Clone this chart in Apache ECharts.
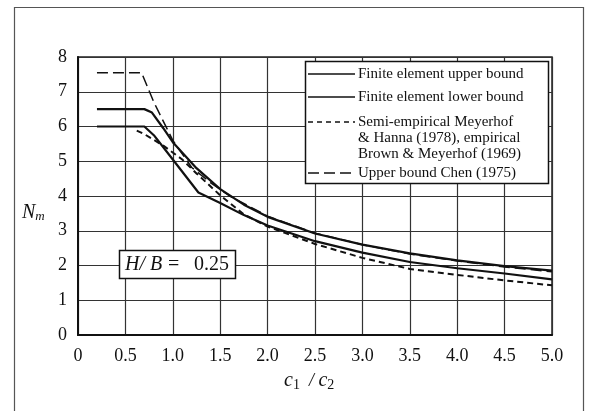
<!DOCTYPE html>
<html>
<head>
<meta charset="utf-8">
<script src="https://cdn.jsdelivr.net/npm/echarts@6/dist/echarts.min.js"></script>
<style>
  html, body { margin: 0; padding: 0; background: #fff; }
  #chart { width: 593px; height: 411px; }
</style>
</head>
<body>
<div id="chart"></div>
<script>
// Bearing capacity factor N_m against strength ratio c1/c2, H/B = 0.25
var xTicks = [0, 0.5, 1.0, 1.5, 2.0, 2.5, 3.0, 3.5, 4.0, 4.5, 5.0];
var yTicks = [0, 1, 2, 3, 4, 5, 6, 7, 8];

var feUpper = [[0.2, 6.5], [0.7, 6.5], [0.78, 6.4], [0.9, 5.95], [1.0, 5.55], [1.25, 4.8], [1.5, 4.2],
  [1.75, 3.75], [2.0, 3.4], [2.5, 2.92], [3.0, 2.6], [3.5, 2.35], [4.0, 2.15], [4.5, 1.98], [5.0, 1.85]];
var feLower = [[0.2, 6.0], [0.7, 6.0], [0.8, 5.75], [1.0, 5.05], [1.27, 4.1], [1.5, 3.8], [1.75, 3.45],
  [2.0, 3.15], [2.5, 2.7], [3.0, 2.37], [3.5, 2.1], [4.0, 1.92], [4.5, 1.77], [5.0, 1.6]];
var semiEmpirical = [[0.62, 5.88], [0.7, 5.78], [0.9, 5.45], [1.1, 5.05], [1.25, 4.65], [1.5, 4.02], [1.75, 3.47],
  [2.0, 3.12], [2.5, 2.62], [3.0, 2.22], [3.5, 1.9], [4.0, 1.73], [4.5, 1.57], [5.0, 1.43]];
var chenUpper = [[0.2, 7.55], [0.67, 7.55], [0.8, 6.7], [1.0, 5.6], [1.2, 4.82], [1.4, 4.38], [1.6, 4.0],
  [2.0, 3.42], [2.5, 2.93], [3.0, 2.6], [3.5, 2.33], [4.0, 2.13], [4.5, 1.96], [5.0, 1.82]];

var legendLines = [
  ['Finite element upper bound'],
  ['Finite element lower bound'],
  ['Semi-empirical Meyerhof', '& Hanna (1978), empirical', 'Brown & Meyerhof (1969)'],
  ['Upper bound Chen (1975)']
];
var ratioName = 'H/ B';
var ratioLabel = '0.25';

var SERIF = '"Liberation Serif", "DejaVu Serif", serif';
var INK = '#111';

var chart = echarts.init(document.getElementById('chart'), null, { renderer: 'canvas' });

function lineSeries(name, data, dash, width) {
  return {
    name: name, type: 'line', data: data, symbol: 'none', smooth: false,
    lineStyle: { color: INK, width: width, type: dash },
    z: 3, silent: true
  };
}

// legend drawn as a boxed block with sample strokes
var legendX = 305, legendY = 61, legendW = 243, legendH = 122;
var legendRows = [74, 97, 122, 173];
var legendDash = [null, null, [5, 4], [11, 5]];
var legendGraphics = [{
  type: 'rect', shape: { x: legendX + 0.5, y: legendY + 0.5, width: legendW, height: legendH },
  style: { fill: '#fff', stroke: INK, lineWidth: 1.5 }, z: 10
}];
legendLines.forEach(function (lines, i) {
  var y = legendRows[i];
  legendGraphics.push({
    type: 'line', shape: { x1: 308, y1: y, x2: 355, y2: y },
    style: { stroke: INK, lineWidth: 1.6, lineDash: legendDash[i] }, z: 11
  });
  lines.forEach(function (t, k) {
    legendGraphics.push({
      type: 'text', x: 358, y: y + k * 15.8,
      style: { text: t, font: '15px ' + SERIF, fill: INK, textVerticalAlign: 'middle' }, z: 11
    });
  });
});

var option = {
  backgroundColor: '#fff',
  animation: false,
  grid: { left: 78, top: 57, right: 41, bottom: 76, show: true, borderColor: '#222', borderWidth: 1.5, backgroundColor: 'transparent' },
  xAxis: {
    type: 'value', min: 0, max: 5, interval: 0.5,
    axisLine: { show: true, lineStyle: { color: INK, width: 2 } },
    axisTick: { show: false },
    axisLabel: {
      margin: 12, color: INK, fontFamily: SERIF, fontSize: 18,
      formatter: function (v) { return xTicks.indexOf(v) === 0 ? '0' : v.toFixed(1); }
    },
    splitLine: { show: true, lineStyle: { color: '#333', width: 1.2 } }
  },
  yAxis: {
    type: 'value', min: 0, max: 8, interval: 1,
    axisLine: { show: true, lineStyle: { color: INK, width: 2 } },
    axisTick: { show: false },
    axisLabel: {
      margin: 11, color: INK, fontFamily: SERIF, fontSize: 18,
      formatter: function (v) { return String(yTicks[yTicks.indexOf(v)]); }
    },
    splitLine: { show: true, lineStyle: { color: '#333', width: 1.2 } }
  },
  series: [
    lineSeries('Finite element upper bound', feUpper, 'solid', 2.2),
    lineSeries('Finite element lower bound', feLower, 'solid', 2.2),
    lineSeries('Semi-empirical', semiEmpirical, [6, 4], 2),
    lineSeries('Upper bound Chen (1975)', chenUpper, [11, 5], 1.5)
  ],
  graphic: [
    // page frame
    { type: 'rect', shape: { x: 14.5, y: 7.5, width: 569, height: 420 },
      style: { fill: 'none', stroke: '#555', lineWidth: 1.2 }, z: 1 },
    // axis titles
    { type: 'text', x: 22, y: 213,
      style: {
        text: '{n|N}{m|m}', textVerticalAlign: 'middle',
        rich: {
          n: { font: 'italic 20px ' + SERIF, fill: INK },
          m: { font: 'italic 13px ' + SERIF, fill: INK, padding: [8, 0, 0, 0] }
        }
      }, z: 10 },
    { type: 'text', x: 284, y: 381,
      style: {
        text: '{c|c}{s|1}{t|  / }{c|c}{s|2}', textVerticalAlign: 'middle',
        rich: {
          c: { font: 'italic 20px ' + SERIF, fill: INK },
          s: { font: '14px ' + SERIF, fill: INK, padding: [8, 0, 0, 0] },
          t: { font: 'italic 18px ' + SERIF, fill: INK }
        }
      }, z: 10 },
    // parameter box
    { type: 'rect', shape: { x: 119.5, y: 250.5, width: 116, height: 28 },
      style: { fill: '#fff', stroke: INK, lineWidth: 1.5 }, z: 10 },
    { type: 'text', x: 125, y: 265,
      style: { text: ratioName, font: 'italic 20px ' + SERIF, fill: INK, textVerticalAlign: 'middle' }, z: 11 },
    { type: 'text', x: 168, y: 265,
      style: { text: '=', font: '20px ' + SERIF, fill: INK, textVerticalAlign: 'middle' }, z: 11 },
    { type: 'text', x: 194, y: 265,
      style: { text: ratioLabel, font: '20px ' + SERIF, fill: INK, textVerticalAlign: 'middle' }, z: 11 }
  ].concat(legendGraphics)
};

chart.setOption(option);
</script>
</body>
</html>
